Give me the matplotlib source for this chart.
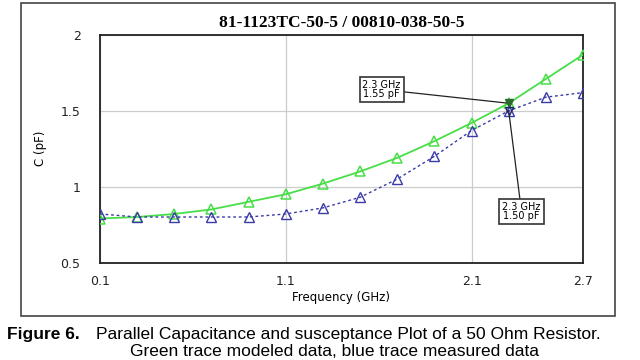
import matplotlib.pyplot as plt
from matplotlib.patches import Rectangle

# ------------------------------------------------------------------
# data (GHz, pF)
freq = [0.1, 0.3, 0.5, 0.7, 0.9, 1.1, 1.3, 1.5, 1.7, 1.9, 2.1, 2.3, 2.5, 2.7]
c_model = [0.79, 0.80, 0.82, 0.85, 0.90, 0.95, 1.02, 1.10, 1.19, 1.30, 1.42, 1.55, 1.71, 1.87]
c_meas = [0.82, 0.80, 0.80, 0.80, 0.80, 0.82, 0.86, 0.93, 1.05, 1.20, 1.37, 1.50, 1.59, 1.62]
xticks = [0.1, 1.1, 2.1, 2.7]
yticks = [0.5, 1, 1.5, 2]
marker_f = 2.3
marker_model = 1.55
marker_meas = 1.50

GREEN = "#48de48"
BLUE = "#3a3aa8"

fig = plt.figure(figsize=(6.4, 3.6), dpi=100)
W, H = 640, 360

# outer frame
fig.patches.append(Rectangle((21 / W, 1 - 316 / H), 594 / W, 313 / H,
                             transform=fig.transFigure, fill=False,
                             edgecolor="#444444", lw=1.2))

ax = fig.add_axes([100 / W, 1 - 262.5 / H, 483 / W, 227.5 / H])
ax.plot(freq, c_model, color=GREEN, lw=1.3, marker="^", ms=6.5,
        mfc="none", mec=GREEN, mew=1.1, zorder=3)
ax.plot(freq, c_meas, color=BLUE, lw=1.0, ls=(0, (2, 2)), marker="^", ms=6.5,
        mfc="none", mec=BLUE, mew=1.0, zorder=3)
ax.plot([marker_f], [marker_model], marker="v", color="#2c6a2c", ms=6, zorder=4)
ax.plot([marker_f], [marker_meas], marker="v", color="#22226a", ms=6, mfc="none", zorder=4)

ax.set_xlim(0.1, 2.7)
ax.set_ylim(0.5, 2)
ax.set_xticks(xticks)
ax.set_xticklabels(["0.1", "1.1", "2.1", "2.7"])
ax.set_yticks(yticks)
ax.set_yticklabels(["0.5", "1", "1.5", "2"])
ax.tick_params(length=0, labelsize=9, colors="#222222")
ax.tick_params(axis="y", pad=14)
ax.tick_params(axis="x", pad=9)
ax.grid(color="#cccccc", lw=0.9)
for s in ax.spines.values():
    s.set_color("#222222")
    s.set_linewidth(1.3)

ax.set_xlabel("Frequency (GHz)", fontsize=8.5, labelpad=2)
ax.set_ylabel("C (pF)", fontsize=8.5, labelpad=10)
ax.set_title("81-1123TC-50-5 / 00810-038-50-5", family="Liberation Serif",
             fontweight="bold", fontsize=12.5, pad=6)

box = dict(boxstyle="square,pad=0.3", fc="white", ec="#333333", lw=1.2)
ax.annotate(f"{marker_f} GHz\n{marker_model:.2f} pF", xy=(marker_f, marker_model),
            xytext=(1.616, 1.641), fontsize=7, ha="center", va="center",
            linespacing=0.95, bbox=box,
            arrowprops=dict(arrowstyle="-", color="#222222", lw=0.9,
                            shrinkA=0, shrinkB=0))
ax.annotate(f"{marker_f} GHz\n{marker_meas:.2f} pF", xy=(marker_f, marker_meas),
            xytext=(2.369, 0.836), fontsize=7, ha="center", va="center",
            linespacing=0.95, bbox=box,
            arrowprops=dict(arrowstyle="-", color="#222222", lw=0.9,
                            shrinkA=0, shrinkB=0))

# caption
fig.text(7 / W, 1 - 334 / H, "Figure 6.", fontsize=12.5, fontweight="bold",
         family="Liberation Sans", va="center")
fig.text(96 / W, 1 - 334 / H,
         "Parallel Capacitance and susceptance Plot of a 50 Ohm Resistor.",
         fontsize=12.5, family="Liberation Sans", va="center")
fig.text(335 / W, 1 - 352 / H, "Green trace modeled data, blue trace measured data",
         fontsize=12.5, family="Liberation Sans", va="center", ha="center")

fig.savefig("out.png", dpi=100)
